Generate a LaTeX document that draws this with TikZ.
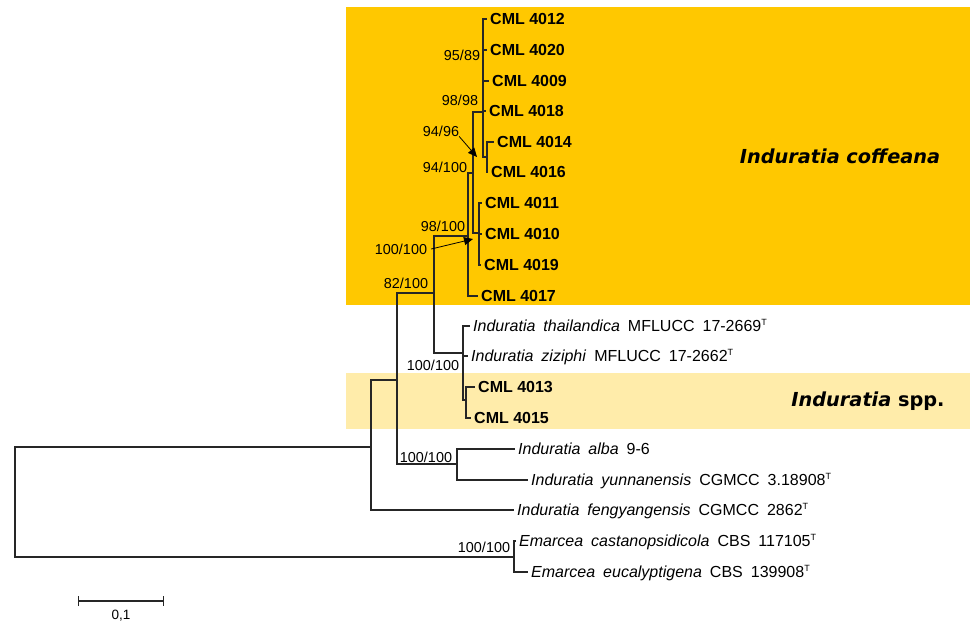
\documentclass[tikz,border=0pt]{standalone}
\usepackage{fontspec}
\setmainfont{Liberation Sans}
\newfontfamily\spfont{Liberation Sans}[WordSpace=1.8]
\newfontfamily\cladefont{DejaVu Sans}
\usetikzlibrary{arrows.meta, positioning}
\definecolor{coffbox}{RGB}{255,200,0}
\definecolor{sppbox}{RGB}{255,236,170}
\newcommand{\typeT}{\textsuperscript{\fontsize{9}{9}\selectfont T}}

\begin{document}
\begin{tikzpicture}[
  x=1pt, y=-1pt,
  br/.style={line width=1.1pt, black!85},
  cml/.style={anchor=west, inner sep=3pt, font=\bfseries\fontsize{16}{18}\selectfont, text height=11.5pt, text depth=0pt},
  sp/.style={anchor=west, inner sep=3pt, font=\spfont\fontsize{16}{18}\selectfont, text height=11.5pt, text depth=0pt},
  bsv/.style={inner sep=0pt, font=\fontsize{14.4}{16}\selectfont},
  clade/.style={inner sep=0pt, font=\cladefont\bfseries\fontsize{19.3}{22}\selectfont},
  call/.style={-{Triangle[length=9pt, width=8pt]}, line width=0.8pt}
]
\useasboundingbox (0,0) rectangle (970,623);
\fill[coffbox] (346,7) rectangle (970,305);
\fill[sppbox] (346,373) rectangle (970,429);

\coordinate (root) at (15,500);
\coordinate (em) at (514,557);
\coordinate (ind) at (371,447);
\coordinate (grpA) at (397,380);
\coordinate (albaN) at (457,464);
\coordinate (n82) at (434,293);
\coordinate (thaiN) at (463,353);
\coordinate (spN) at (466,400);
\coordinate (n98) at (468,236);
\coordinate (n94) at (473,173);
\coordinate (n98b) at (483,112);
\coordinate (n94b) at (487,157);
\coordinate (polyN) at (479,233);

\node[cml] (t4012) at (487,19) {CML 4012};
\node[cml] (t4020) at (487,50) {CML 4020};
\node[cml] (t4009) at (489,81) {CML 4009};
\node[cml] (t4018) at (486,111) {CML 4018};
\node[cml] (t4014) at (494,142) {CML 4014};
\node[cml] (t4016) at (488,172) {CML 4016};
\node[cml] (t4011) at (482,203) {CML 4011};
\node[cml] (t4010) at (482,234) {CML 4010};
\node[cml] (t4019) at (481,265) {CML 4019};
\node[cml] (t4017) at (478,296) {CML 4017};
\node[sp] (tThai) at (470,326) {\textit{Induratia} \textit{thailandica} MFLUCC 17-2669\typeT};
\node[sp] (tZiz) at (468,356) {\textit{Induratia} \textit{ziziphi} MFLUCC 17-2662\typeT};
\node[cml] (t4013) at (475,387) {CML 4013};
\node[cml] (t4015) at (471,418) {CML 4015};
\node[sp] (tAlba) at (515,449) {\textit{Induratia} \textit{alba} 9-6};
\node[sp] (tYun) at (528,480) {\textit{Induratia} \textit{yunnanensis} CGMCC 3.18908\typeT};
\node[sp] (tFeng) at (514,510) {\textit{Induratia} \textit{fengyangensis} CGMCC 2862\typeT};
\node[sp] (tCas) at (516,541) {\textit{Emarcea} \textit{castanopsidicola} CBS 117105\typeT};
\node[sp] (tEuc) at (528,572) {\textit{Emarcea} \textit{eucalyptigena} CBS 139908\typeT};

\draw[br] (root) |- (ind) (root) |- (em);
\draw[br] (ind) |- (grpA) (ind) |- (tFeng.west);
\draw[br] (grpA) |- (n82) (grpA) |- (albaN);
\draw[br] (albaN) |- (tAlba.west) (albaN) |- (tYun.west);
\draw[br] (n82) |- (n98) (n82) |- (thaiN);
\draw[br] (thaiN) |- (tThai.west) (thaiN) |- (tZiz.west) (thaiN) |- (spN);
\draw[br] (spN) |- (t4013.west) (spN) |- (t4015.west);
\draw[br] (n98) |- (n94) (n98) |- (t4017.west);
\draw[br] (n94) |- (n98b) (n94) |- (polyN);
\draw[br] (n98b) |- (t4012.west) (n98b) |- (t4020.west) (n98b) |- (t4009.west)
  (n98b) |- (t4018.west) (n98b) |- (n94b);
\draw[br] (n94b) |- (t4014.west) (n94b) |- (t4016.west);
\draw[br] (polyN) |- (t4011.west) (polyN) |- (t4010.west) (polyN) |- (t4019.west);
\draw[br] (em) |- (tCas.west) (em) |- (tEuc.west);

\node[bsv] (b9589) at (462,55) {95/89};
\node[bsv] (b9898) at (460,100) {98/98};
\node[bsv] (b9496) at (441,131) {94/96};
\node[bsv] (b94100) at (445,167) {94/100};
\node[bsv] (b98100) at (443,226) {98/100};
\node[bsv] (b100a) at (401,249) {100/100};
\node[bsv] (b82) at (406,283) {82/100};
\node[bsv] (b100t) at (433,365) {100/100};
\node[bsv] (b100al) at (426,457) {100/100};
\node[bsv] (b100em) at (484,547) {100/100};

\coordinate (h9496) at (477,157);
\coordinate (h100) at (473,239);
\draw[call] (b9496.south east) -- (h9496);
\draw[call] ([xshift=4pt]b100a.east) -- (h100);

\node[clade] (coffL) at (840,156) {\itshape Induratia coffeana};
\node[clade] (sppL) at (868,401) {{\itshape Induratia} spp.};

\coordinate (sbL) at (78,601);
\coordinate (sbR) at (164,601);
\draw[br, {Bar[width=10pt]}-{Bar[width=10pt]}] (sbL) -- (sbR);
\node[bsv, font=\fontsize{13.5}{15}\selectfont] (sbLab) at (121,616) {0,1};
\end{tikzpicture}
\end{document}
